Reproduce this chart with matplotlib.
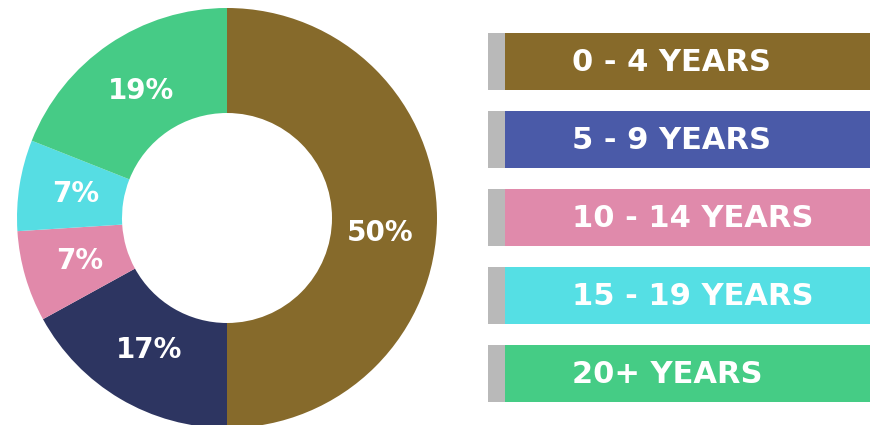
import matplotlib.pyplot as plt
import numpy as np

# share of members by years of membership
labels = ['0 - 4 YEARS', '5 - 9 YEARS', '10 - 14 YEARS', '15 - 19 YEARS', '20+ YEARS']
shares = [50, 17, 7, 7, 19]
ring_colors = ['#866a2b', '#2d3561', '#e189aa', '#56dde3', '#46cb86']
key_colors = ['#876a2a', '#4a5aa8', '#e08aab', '#55dfe4', '#45cc85']
stub_color = '#b9b9b9'

W, H = 878, 425
fig = plt.figure(figsize=(W / 100, H / 100), dpi=100)
fig.patch.set_facecolor('white')
font = dict(family=['DejaVu Sans'], weight='bold', color='white')

# donut
ax = fig.add_axes([17 / W, -3 / H, 420 / W, 420 / H])
wedges, _, autotexts = ax.pie(shares, colors=ring_colors, startangle=90, counterclock=False,
                              radius=1, autopct='%d%%', pctdistance=0.73,
                              wedgeprops=dict(width=0.5, linewidth=0))
for t in autotexts:
    t.set(fontsize=20, **font)
autotexts[0].set_y(autotexts[0].get_position()[1] - 0.07)
ax.set_xlim(-1, 1)
ax.set_ylim(-1, 1)
ax.set_aspect('equal')
ax.axis('off')

# key boxes on the right
kx = fig.add_axes([0, 0, 1, 1])
kx.set_xlim(0, W)
kx.set_ylim(H, 0)
kx.axis('off')
rows = np.arange(len(labels))
top, pitch, h = 33, 78, 57
ys = top + rows * pitch + h / 2
kx.barh(ys, 17, left=488, height=h, color=stub_color)
kx.barh(ys, 365, left=505, height=h, color=key_colors)
for y, lab in zip(ys, labels):
    kx.text(572, y + 1, lab, ha='left', va='center', fontsize=22, **font)

fig.savefig('out.png', dpi=100)
